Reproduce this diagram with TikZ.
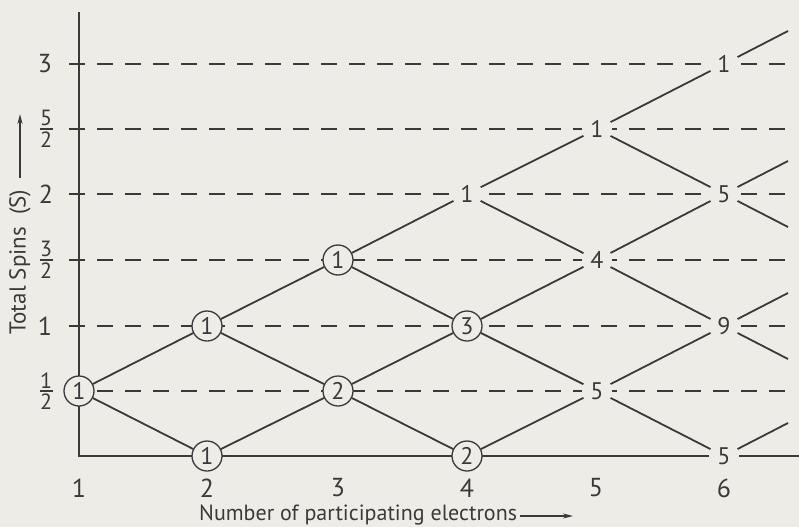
\documentclass[tikz,border=0pt]{standalone}
\usepackage{fontspec}
\setmainfont{PT Sans}
\usetikzlibrary{arrows.meta}
\definecolor{paper}{HTML}{EDECE7}
\definecolor{ink}{HTML}{3A3A3A}
\newcommand{\halfof}[1]{\vbox{\offinterlineskip\halign{\hfil##\hfil\cr\fontsize{22}{22}\selectfont #1\cr\noalign{\kern2pt}\rule{13pt}{1.8pt}\cr\noalign{\kern2pt}\fontsize{22}{22}\selectfont 2\cr}}}
\begin{document}
\begin{tikzpicture}[x=1pt,y=-1pt,
  every node/.style={text=ink},
  grid/.style={draw=ink,line width=2pt,dash pattern=on 16pt off 12pt},
  axis/.style={draw=ink,line width=2pt},
  edge/.style={draw=ink,line width=1.8pt},
  cnode/.style={circle,minimum size=30pt,inner sep=0pt,fill=paper,draw=ink,line width=1.3pt,font=\fontsize{24}{24}\selectfont},
  pnode/.style={circle,minimum size=30pt,inner sep=0pt,fill=paper,font=\fontsize{24}{24}\selectfont},
  lab/.style={font=\fontsize{26}{26}\selectfont,inner sep=0pt}]
\fill[paper] (0,0) rectangle (799,527);
\useasboundingbox (0,0) rectangle (799,527);
% grid lines
\foreach \n/\y in {a/64,b/129,c/194,d/260,e/326,f/391}{
  \coordinate (gs\n) at (69,\y);
  \coordinate (ge\n) at (788,\y);
  \draw[grid] (gs\n) -- (ge\n);
}
% axes
\coordinate (ytop) at (79,12);
\coordinate (orig) at (79,456);
\coordinate (xend) at (799,456);
\draw[axis] (ytop) -- (orig) -- (xend);
% y labels
\node[lab] (y3) at (45,64) {3};
\node[lab] (y52) at (46,129) {\halfof{5}};
\node[lab] (y2) at (46,194) {2};
\node[lab] (y32) at (46,260) {\halfof{3}};
\node[lab] (y1) at (45,326) {1};
\node[lab] (y12) at (46,391) {\halfof{1}};
% x labels
\node[lab] (x1) at (79,488) {1};
\node[lab] (x2) at (207,488) {2};
\node[lab] (x3) at (338,488) {3};
\node[lab] (x4) at (467,488) {4};
\node[lab] (x5) at (596,488) {5};
\node[lab] (x6) at (724,488) {6};
% nodes
\node[cnode] (n1h) at (79,391) {1};
\node[cnode] (n2a) at (207,326) {1};
\node[cnode] (n2b) at (207,456) {1};
\node[cnode] (n3a) at (338,260) {1};
\node[cnode] (n3b) at (338,391) {2};
\node[pnode] (n4a) at (467,194) {1};
\node[cnode] (n4b) at (467,326) {3};
\node[cnode] (n4c) at (467,456) {2};
\node[pnode] (n5a) at (597,129) {1};
\node[pnode] (n5b) at (597,260) {4};
\node[pnode] (n5c) at (597,391) {5};
\node[pnode] (n6a) at (724,64) {1};
\node[pnode] (n6b) at (724,194) {5};
\node[pnode] (n6c) at (724,326) {9};
\node[pnode] (n6d) at (724,456) {5};
% free ends
\coordinate (f1) at (788,31);
\coordinate (f2) at (788,161);
\coordinate (f3) at (788,227);
\coordinate (f4) at (788,293);
\coordinate (f5) at (788,359);
\coordinate (f6) at (788,423);
% edges
\draw[edge] (n1h) -- (n2a);
\draw[edge] (n1h) -- (n2b);
\draw[edge] (n2a) -- (n3a);
\draw[edge] (n2a) -- (n3b);
\draw[edge] (n2b) -- (n3b);
\draw[edge] (n3a) -- (n4a);
\draw[edge] (n3a) -- (n4b);
\draw[edge] (n3b) -- (n4b);
\draw[edge] (n3b) -- (n4c);
\draw[edge] (n4a) -- (n5a);
\draw[edge] (n4a) -- (n5b);
\draw[edge] (n4b) -- (n5b);
\draw[edge] (n4b) -- (n5c);
\draw[edge] (n4c) -- (n5c);
\draw[edge] (n5a) -- (n6a);
\draw[edge] (n5a) -- (n6b);
\draw[edge] (n5b) -- (n6b);
\draw[edge] (n5b) -- (n6c);
\draw[edge] (n5c) -- (n6c);
\draw[edge] (n5c) -- (n6d);
\draw[edge] (n6a) -- (f1);
\draw[edge] (n6b) -- (f2);
\draw[edge] (n6b) -- (f3);
\draw[edge] (n6c) -- (f4);
\draw[edge] (n6c) -- (f5);
\draw[edge] (n6d) -- (f6);
% axis titles
\node[lab,font=\fontsize{23}{23}\selectfont,rotate=90] (ytitle) at (20,262) {Total\ Spins\ \ (S)};
\coordinate (ya0) at (20,178);
\coordinate (ya1) at (20,114);
\draw[ink,line width=1.5pt,-{Stealth[length=10pt,width=5pt]}] (ya0) -- (ya1);
\node[lab,font=\fontsize{22}{22}\selectfont,anchor=west] (xtitle) at (199,515) {Number\ of\ participating\ electrons};
\coordinate (xa0) at (520,516);
\coordinate (xa1) at (573,516);
\draw[ink,line width=1.5pt,-{Stealth[length=10pt,width=5pt]}] (xa0) -- (xa1);
\end{tikzpicture}
\end{document}
